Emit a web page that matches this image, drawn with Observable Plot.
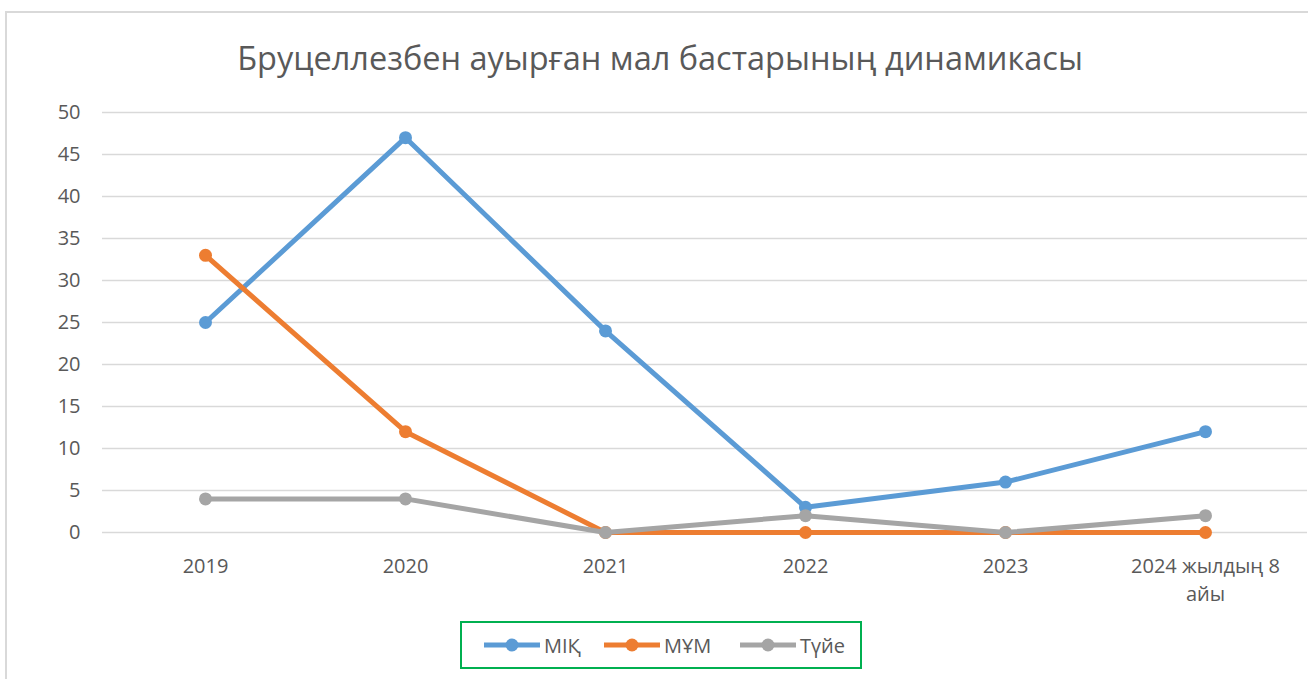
<!DOCTYPE html>
<html><head><meta charset="utf-8">
<script src="https://cdn.jsdelivr.net/npm/d3@7"></script>
<script src="https://cdn.jsdelivr.net/npm/@observablehq/plot@0.6"></script>
<style>
body{margin:0;background:#fff;width:1308px;height:679px;overflow:hidden;position:relative;font-family:"Open Sans",sans-serif;}
#frame{position:absolute;left:5px;top:11px;width:1330px;height:720px;border:2px solid #d9d9d9;box-sizing:border-box}
#title{position:absolute;top:35px;left:0;width:1320px;text-align:center;font-size:32.5px;color:#595959;white-space:nowrap;line-height:46px}
#chart{position:absolute;left:0;top:90px}
#legend{position:absolute;left:460px;top:621px;width:402px;height:48px;border:2px solid #00B050;box-sizing:border-box;display:flex;align-items:center;font-size:20px;color:#595959}
.item{position:absolute;top:0;height:44px;display:flex;align-items:center}
</style></head>
<body>
<div id="frame"></div>
<div id="title">Бруцеллезбен ауырған мал бастарының динамикасы</div>
<div id="chart"></div>
<div id="legend"></div>
<script>
const years = ["2019", "2020", "2021", "2022", "2023", "2024 жылдың 8\nайы"];
const seriesNames = ["МІҚ", "МҰМ", "Түйе"];
const seriesColors = ["#5B9BD5", "#ED7D31", "#A5A5A5"];
const mik = [25, 47, 24, 3, 6, 12];
const mum = [33, 12, 0, 0, 0, 0];
const tuie = [4, 4, 0, 2, 0, 2];
const yTicks = [0, 5, 10, 15, 20, 25, 30, 35, 40, 45, 50];

const values = [mik, mum, tuie];
const rows = [];
values.forEach((arr, s) => arr.forEach((v, i) => rows.push({year: years[i], series: seriesNames[s], value: v})));

const marks = [
  Plot.gridY(yTicks, {stroke: "#d9d9d9", strokeOpacity: 1, strokeWidth: 1.3}),
  Plot.axisY(yTicks, {tickSize: 0, tickPadding: 22, fontSize: 20}),
  Plot.axisX({tickSize: 0, tickPadding: 21, fontSize: 20, lineHeight: 1.4})
];
seriesNames.forEach(name => {
  const d = rows.filter(r => r.series === name);
  marks.push(Plot.line(d, {x: "year", y: "value", stroke: "series", strokeWidth: 5, strokeLinejoin: "round"}));
  marks.push(Plot.dot(d, {x: "year", y: "value", fill: "series", r: 6.5}));
});

const chart = Plot.plot({
  width: 1308,
  height: 530,
  marginTop: 22,
  marginBottom: 88,
  marginLeft: 102,
  marginRight: 1,
  style: {fontSize: "20px", fontFamily: "'Open Sans', sans-serif", color: "#595959", background: "transparent"},
  x: {type: "point", domain: years, padding: 0.5, label: null},
  y: {domain: [0, 50], label: null},
  color: {domain: seriesNames, range: seriesColors},
  marks
});
document.getElementById("chart").appendChild(chart);

const legend = document.getElementById("legend");
const lx = [22, 142, 278];
seriesNames.forEach((name, i) => {
  const it = document.createElement("div");
  it.className = "item";
  it.style.left = lx[i] + "px";
  it.innerHTML = `<svg width="60" height="14"><line x1="0" x2="56" y1="7" y2="7" stroke="${seriesColors[i]}" stroke-width="5"/><circle cx="28" cy="7" r="6.5" fill="${seriesColors[i]}"/></svg><span>${name}</span>`;
  legend.appendChild(it);
});
</script>
</body></html>
